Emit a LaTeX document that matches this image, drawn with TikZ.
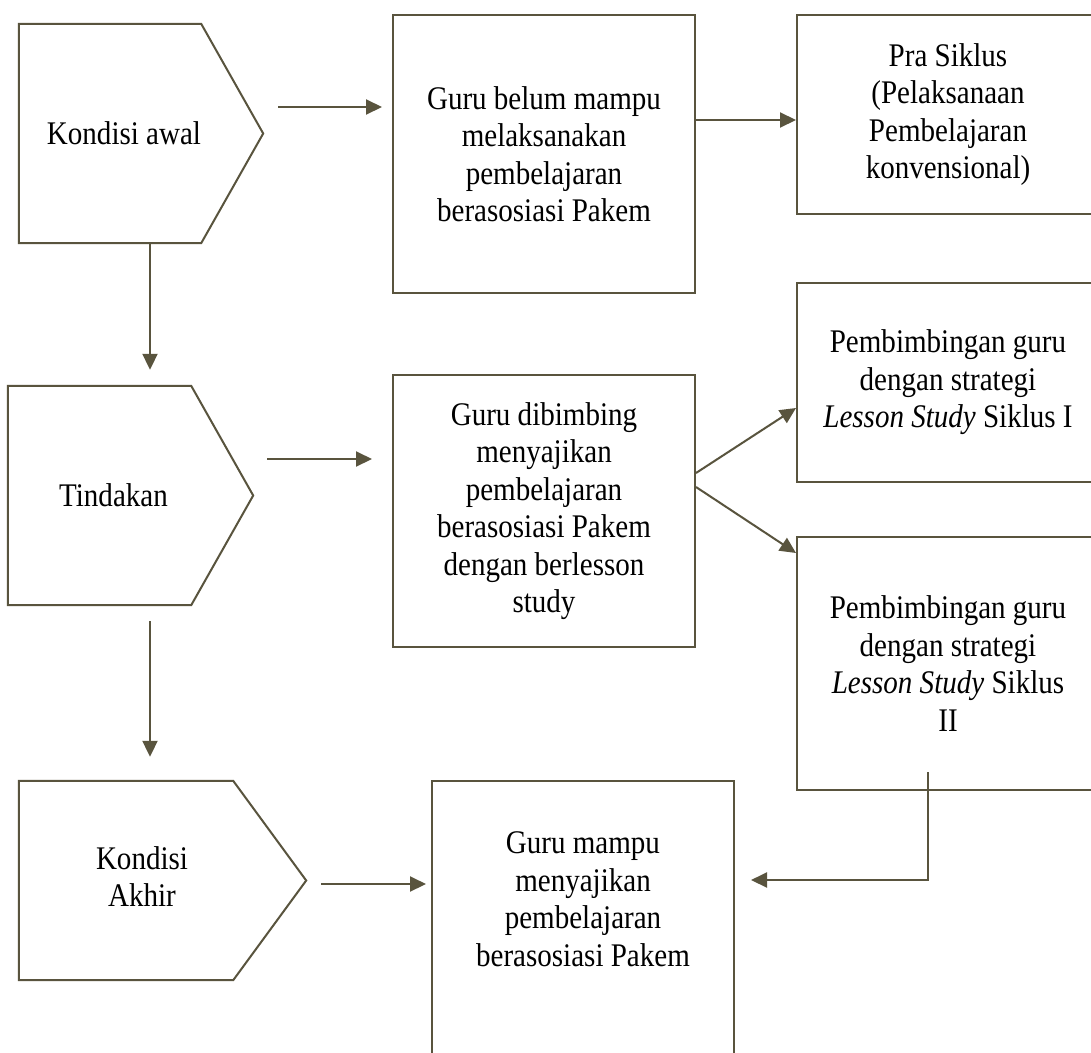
\documentclass[tikz,border=0pt]{standalone}
\usepackage{fontspec}
\setmainfont{Liberation Serif}[FakeStretch=0.88]
\usetikzlibrary{arrows.meta}
\definecolor{garis}{RGB}{89,84,62}

\begin{document}
\begin{tikzpicture}[x=1pt,y=-1pt,
	font=\fontsize{33}{37.5}\selectfont,
	kotak/.style={draw=garis,line width=2pt,minimum width=302pt,align=center},
	badan/.style={minimum width=#1,inner sep=0pt},
	panah/.style={draw=garis,line width=2pt,-{Triangle[length=16pt,width=15pt]}}]
	\useasboundingbox (0,0) rectangle (1091,1052);
	\clip (0,0) rectangle (1091,1052);
	\fill[white] (0,0) rectangle (1091,1052);
	% kondisi (kiri)
	\node[badan=182pt,minimum height=219pt,label={[xshift=14pt]center:Kondisi awal}] (awal) at (110,133.5) {};
	\node[badan=183pt,minimum height=219pt,label={[xshift=14pt]center:Tindakan}] (tindakan) at (99.5,495.5) {};
	\node[badan=214pt,minimum height=199pt,label={[xshift=16pt,yshift=4pt,align=center]center:Kondisi\\Akhir}] (akhir) at (126,880.5) {};
	\foreach \n/\d in {awal/62,tindakan/62,akhir/73}
		\draw[garis,line width=2pt] (\n.north west) -- (\n.north east) -- ([xshift=\d pt]\n.east) -- (\n.south east) -- (\n.south west) -- cycle;
	% kotak
	\node[kotak,minimum height=278pt] (belum) at (544,154) {Guru belum mampu\\melaksanakan\\pembelajaran\\berasosiasi Pakem};
	\node[kotak,minimum height=199pt] (prasiklus) at (948,114.5) {Pra Siklus\\(Pelaksanaan\\Pembelajaran\\konvensional)};
	\node[kotak,minimum height=272pt] (dibimbing) at (544,511) {Guru dibimbing\\menyajikan\\pembelajaran\\berasosiasi Pakem\\dengan berlesson\\study};
	\node[kotak,minimum height=199pt] (siklus1) at (948,382.5) {Pembimbingan guru\\dengan strategi\\\textit{Lesson Study} Siklus I};
	\node[kotak,minimum height=253pt] (siklus2) at (948,663.5) {Pembimbingan guru\\dengan strategi\\\textit{Lesson Study} Siklus\\II};
	\node[kotak,minimum height=278pt,label={[yshift=21pt,align=center]center:Guru mampu\\menyajikan\\pembelajaran\\berasosiasi Pakem}] (mampu) at (583,920) {};
	% panah
	\draw[panah] ([xshift=77pt]awal.east |- 0,107) -- ([xshift=-10pt]belum.west |- 0,107);
	\draw[panah] (belum.east |- 0,120) -- (prasiklus.west |- 0,120);
	\draw[panah] (awal.south -| 150,0) -- ([yshift=16pt]tindakan.north -| 150,0);
	\draw[panah] ([xshift=76pt]tindakan.east |- 0,459) -- ([xshift=-20pt]dibimbing.west |- 0,459);
	\draw[panah] (dibimbing.east |- 0,473) -- (siklus1.west |- 0,408);
	\draw[panah] (dibimbing.east |- 0,487) -- (siklus2.west |- 0,553);
	\draw[panah] ([yshift=-16pt]tindakan.south -| 150,0) -- ([yshift=24pt]akhir.north -| 150,0);
	\draw[panah] ([xshift=88pt]akhir.east |- 0,884) -- ([xshift=-5pt]mampu.west |- 0,884);
	\draw[panah] ([shift={(-20,-19)}]siklus2.south) |- ([xshift=16pt]mampu.east |- 0,880);
\end{tikzpicture}
\end{document}
